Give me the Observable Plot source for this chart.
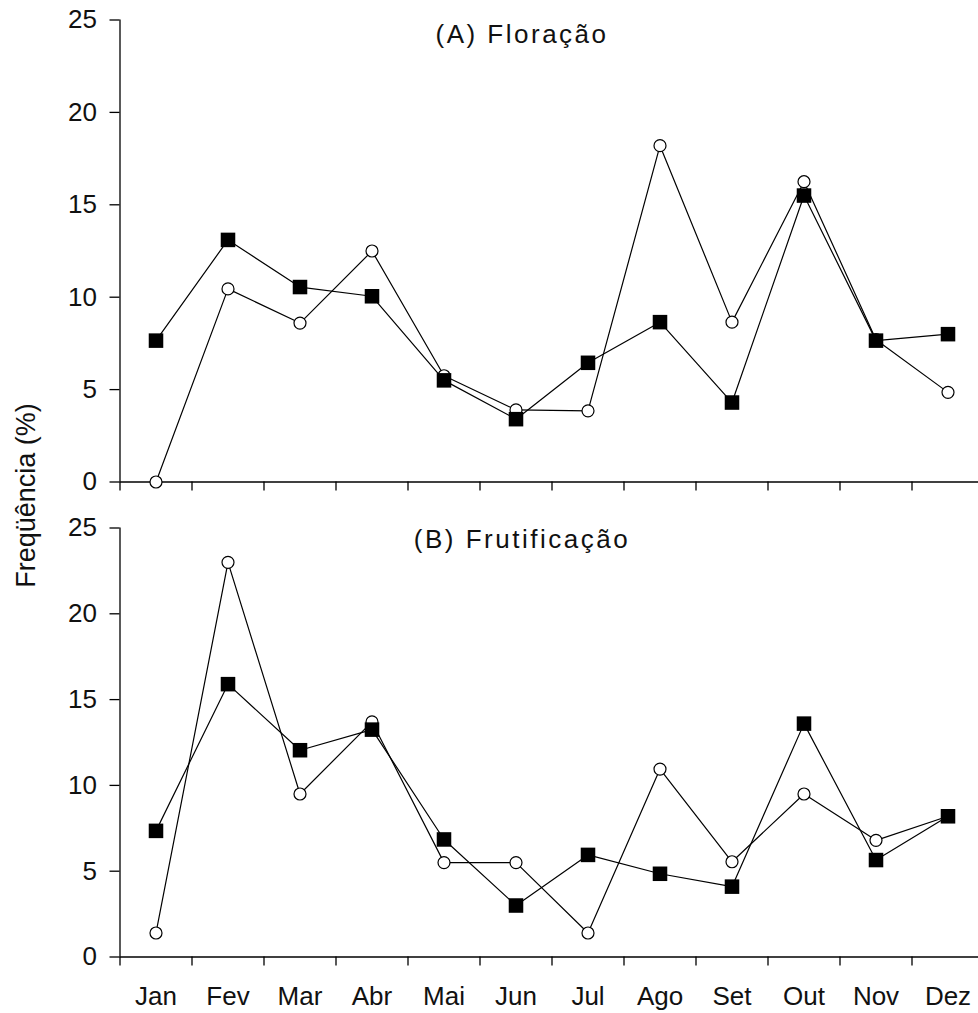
<!DOCTYPE html>
<html>
<head>
<meta charset="utf-8">
<script src="https://cdn.jsdelivr.net/npm/d3@7"></script>
<script src="https://cdn.jsdelivr.net/npm/@observablehq/plot@0.6"></script>
<style>
  body { margin: 0; background: #fff; }
  #wrap { position: relative; width: 978px; height: 1013px; overflow: hidden; background: #fff;
          font-family: "Liberation Sans", Arial, sans-serif; }
  .panel { position: absolute; left: 0; }
  #overlay { position: absolute; left: 0; top: 0; pointer-events: none; }
</style>
</head>
<body>
<div id="wrap">
  <div class="panel" id="top" style="top:0px"></div>
  <div class="panel" id="bottom" style="top:500px"></div>
  <svg id="overlay" width="978" height="1013" font-family="Liberation Sans, Arial, sans-serif" fill="#111">
    <text id="titleA" x="522" y="43" text-anchor="middle" font-size="26" letter-spacing="2.5">(A) Floração</text>
    <text id="titleB" x="522" y="548" text-anchor="middle" font-size="26" letter-spacing="2.5">(B) Frutificação</text>
    <text transform="translate(35,495.5) rotate(-90)" text-anchor="middle" font-size="27">Freqüência (%)</text>
  </svg>
</div>
<script>
// ---- Data ----
const months = ["Jan","Fev","Mar","Abr","Mai","Jun","Jul","Ago","Set","Out","Nov","Dez"];
const yTicks = [0, 5, 10, 15, 20, 25];

// (A) Floração
const floracaoAbertos = [0, 10.45, 8.6, 12.5, 5.75, 3.9, 3.85, 18.2, 8.65, 16.25, 7.7, 4.85];
const floracaoCheios  = [7.65, 13.1, 10.55, 10.05, 5.5, 3.4, 6.45, 8.65, 4.3, 15.5, 7.65, 8.0];

// (B) Frutificação
const frutificacaoAbertos = [1.4, 23.0, 9.5, 13.7, 5.5, 5.5, 1.4, 10.95, 5.55, 9.5, 6.8, 8.2];
const frutificacaoCheios  = [7.35, 15.9, 12.05, 13.25, 6.85, 3.0, 5.95, 4.85, 4.1, 13.6, 5.65, 8.2];

function rows(vals) { return vals.map((v, i) => ({m: i + 1, mes: months[i], v})); }

function panel({open, filled, height, marginTop, marginBottom, labels}) {
  const boundaries = d3.range(0, 12).map(i => i + 0.5);
  const marks = [
    Plot.ruleY([0], {stroke: "black", strokeWidth: 1.3}),
    Plot.ruleX([0.5], {stroke: "black", strokeWidth: 1.3}),
    Plot.axisY({ticks: yTicks, tickSize: 10, tickPadding: 13, label: null, fontSize: 26, stroke: "black", strokeWidth: 1.3}),
    Plot.axisX({ticks: boundaries, tickSize: 9, tickFormat: () => "", label: null, stroke: "black", strokeWidth: 1.3}),
    Plot.line(rows(open), {x: "m", y: "v", stroke: "black", strokeWidth: 1.2}),
    Plot.line(rows(filled), {x: "m", y: "v", stroke: "black", strokeWidth: 1.2}),
    Plot.dot(rows(open), {x: "m", y: "v", r: 6, fill: "white", stroke: "black", strokeWidth: 1.2}),
    Plot.dot(rows(filled), {x: "m", y: "v", r: 8.2, symbol: "square", fill: "black", stroke: "none"})
  ];
  if (labels) {
    marks.push(Plot.axisX({ticks: d3.range(1, 13), tickSize: 0, tickPadding: 30,
      tickFormat: d => months[d - 1], label: null, fontSize: 26}));
  }
  return Plot.plot({
    width: 978,
    height,
    marginTop,
    marginBottom,
    marginLeft: 119.5,
    marginRight: 0,
    x: {domain: [0.5, 12.5], range: [119.5, 983.5]},
    y: {domain: [0, 25]},
    style: {fontFamily: "Liberation Sans, Arial, sans-serif", fontSize: "26px", color: "#111", background: "white", overflow: "visible"},
    marks
  });
}

document.getElementById("top").append(panel({
  open: floracaoAbertos, filled: floracaoCheios,
  height: 500, marginTop: 19.5, marginBottom: 18.5, labels: false
}));
document.getElementById("bottom").append(panel({
  open: frutificacaoAbertos, filled: frutificacaoCheios,
  height: 513, marginTop: 27.5, marginBottom: 56.5, labels: true
}));
</script>
</body>
</html>
